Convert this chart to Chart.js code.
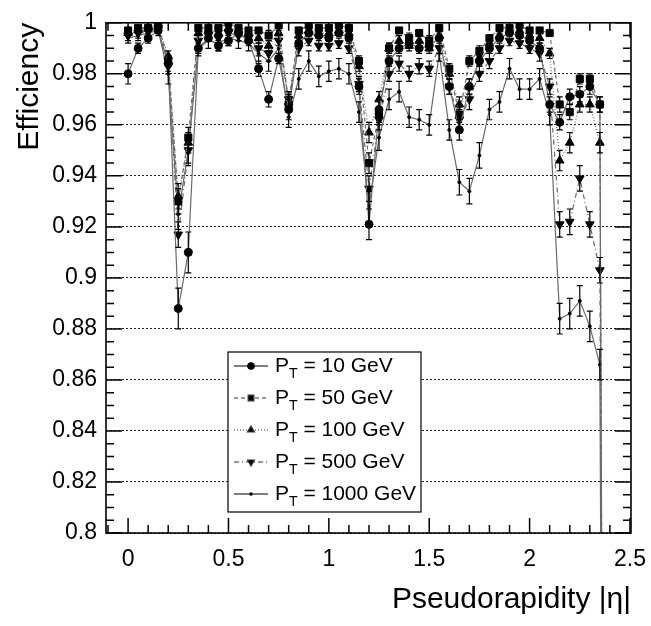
<!DOCTYPE html>
<html>
<head>
<meta charset="utf-8">
<script src="https://cdn.jsdelivr.net/npm/chart.js@4.4.1/dist/chart.umd.min.js"></script>
<style>
  html, body { margin: 0; padding: 0; background: #fff; }
  #wrap { width: 651px; height: 626px; }
</style>
</head>
<body>
<div id="wrap"><canvas id="chart"></canvas></div>
<script>
const eta = [0, 0.05, 0.1, 0.15, 0.2, 0.25, 0.3, 0.35, 0.4, 0.45, 0.5, 0.55, 0.6, 0.65, 0.7, 0.75, 0.8, 0.85, 0.9, 0.95,
             1.0, 1.05, 1.1, 1.15, 1.2, 1.25, 1.3, 1.35, 1.4, 1.45, 1.5, 1.55, 1.6, 1.65, 1.7, 1.75, 1.8, 1.85, 1.9, 1.95,
             2.0, 2.05, 2.1, 2.15, 2.2, 2.25, 2.3, 2.35, 2.4]

const eff10 = [0.980, 0.990, 0.994, 0.997, 0.984, 0.888, 0.910, 0.990, 0.994, 0.991, 0.993, 0.996, 0.993, 0.982, 0.970, 0.986, 0.966, 0.992, 0.996, 0.995,
               0.994, 0.996, 0.994, 0.975, 0.921, 0.966, 0.985, 0.990, 0.992, 0.990, 0.991, 0.994, 0.975, 0.958, 0.975, 0.985, 0.990, 0.994, 0.996, 0.995,
               0.993, 0.990, 0.968, 0.961, 0.971, 0.972, 0.975, 0.968, 0]
const eff50 = [0.997, 0.998, 0.998, 0.999, 0.985, 0.930, 0.955, 0.998, 0.998, 0.998, 1.000, 0.998, 0.997, 0.997, 0.995, 0.999, 0.968, 0.997, 0.999, 0.998,
               0.998, 0.999, 0.998, 0.985, 0.945, 0.964, 0.990, 0.997, 0.994, 0.996, 0.993, 0.998, 0.982, 0.964, 0.985, 0.989, 0.994, 0.998, 0.998, 0.999,
               0.997, 0.997, 0.996, 0.968, 0.965, 0.978, 0.978, 0.968, 0]
const eff100 = [0.996, 0.997, 0.998, 0.999, 0.987, 0.932, 0.953, 0.996, 0.997, 0.996, 0.998, 0.997, 0.996, 0.994, 0.991, 0.996, 0.969, 0.995, 0.997, 0.996,
                0.996, 0.997, 0.996, 0.983, 0.957, 0.970, 0.990, 0.993, 0.991, 0.993, 0.990, 0.995, 0.980, 0.968, 0.975, 0.986, 0.992, 0.995, 0.997, 0.997,
                0.995, 0.994, 0.988, 0.946, 0.953, 0.968, 0.968, 0.953, 0]
const eff500 = [0.995, 0.996, 0.997, 0.998, 0.983, 0.917, 0.950, 0.993, 0.995, 0.994, 0.996, 0.995, 0.994, 0.990, 0.988, 0.993, 0.970, 0.990, 0.993, 0.991,
                0.991, 0.992, 0.990, 0.976, 0.935, 0.962, 0.980, 0.984, 0.980, 0.983, 0.982, 0.990, 0.975, 0.962, 0.970, 0.980, 0.985, 0.990, 0.993, 0.992,
                0.990, 0.988, 0.975, 0.921, 0.922, 0.939, 0.921, 0.903, 0]
const eff1000 = [0.994, 0.995, 0.996, 0.997, 0.980, 0.925, 0.950, 0.990, 0.993, 0.992, 0.994, 0.993, 0.992, 0.988, 0.985, 0.990, 0.963, 0.978, 0.985, 0.979,
                 0.981, 0.982, 0.980, 0.965, 0.928, 0.955, 0.970, 0.973, 0.963, 0.962, 0.960, 0.988, 0.958, 0.9375, 0.934, 0.948, 0.966, 0.969, 0.982, 0.974,
                 0.974, 0.978, 0.964, 0.884, 0.886, 0.891, 0.881, 0.866, 0]

// errors (half length of the bars)
const err10 = [0.004, 0.002, 0.002, 0.001, 0.003, 0.008, 0.008, 0.002, 0.001, 0.002, 0.002, 0.001, 0.002, 0.003, 0.003, 0.002, 0.004, 0.002, 0.001, 0.001,
               0.001, 0.001, 0.001, 0.003, 0.006, 0.004, 0.002, 0.002, 0.002, 0.002, 0.002, 0.001, 0.003, 0.004, 0.003, 0.002, 0.002, 0.001, 0.001, 0.001,
               0.002, 0.002, 0.003, 0.003, 0.003, 0.003, 0.003, 0.003, 0]
const err50 = [0.001, 0.001, 0.001, 0.001, 0.002, 0.005, 0.004, 0.001, 0.001, 0.001, 0.001, 0.001, 0.001, 0.001, 0.002, 0.001, 0.003, 0.001, 0.001, 0.001,
               0.001, 0.001, 0.001, 0.002, 0.004, 0.003, 0.002, 0.001, 0.002, 0.001, 0.002, 0.001, 0.002, 0.003, 0.002, 0.002, 0.001, 0.001, 0.001, 0.001,
               0.001, 0.001, 0.001, 0.003, 0.003, 0.002, 0.002, 0.003, 0]
const err100 = [0.001, 0.001, 0.001, 0.001, 0.002, 0.005, 0.004, 0.001, 0.001, 0.001, 0.001, 0.001, 0.001, 0.002, 0.002, 0.001, 0.003, 0.002, 0.001, 0.001,
                0.001, 0.001, 0.001, 0.002, 0.004, 0.003, 0.002, 0.002, 0.002, 0.002, 0.002, 0.001, 0.002, 0.003, 0.003, 0.002, 0.002, 0.001, 0.001, 0.001,
                0.001, 0.002, 0.002, 0.004, 0.004, 0.003, 0.003, 0.004, 0]
const err500 = [0.002, 0.002, 0.001, 0.001, 0.003, 0.005, 0.005, 0.002, 0.002, 0.002, 0.002, 0.002, 0.002, 0.003, 0.003, 0.002, 0.003, 0.003, 0.002, 0.002,
                0.002, 0.002, 0.002, 0.003, 0.005, 0.004, 0.003, 0.003, 0.003, 0.003, 0.003, 0.002, 0.003, 0.004, 0.004, 0.003, 0.003, 0.002, 0.002, 0.002,
                0.002, 0.003, 0.003, 0.005, 0.005, 0.005, 0.005, 0.005, 0]
const err1000 = [0.002, 0.002, 0.002, 0.002, 0.004, 0.006, 0.006, 0.003, 0.003, 0.003, 0.003, 0.003, 0.003, 0.004, 0.004, 0.003, 0.004, 0.004, 0.004, 0.004,
                 0.004, 0.004, 0.004, 0.004, 0.006, 0.005, 0.004, 0.004, 0.004, 0.004, 0.004, 0.003, 0.004, 0.005, 0.005, 0.005, 0.004, 0.004, 0.004, 0.004,
                 0.004, 0.004, 0.004, 0.006, 0.006, 0.006, 0.006, 0.006, 0]

const seriesLabels = ['10 GeV', '50 GeV', '100 GeV', '500 GeV', '1000 GeV']

const FONT = '"Liberation Sans", Arial, Helvetica, sans-serif'
const LINE = '#6a6a6a'

function points(vals) {
    return eta.map((x, i) => ({ x: x, y: vals[i] }))
}

function makeSet(label, vals, errs, dash, style, radius, rotation) {
    return {
        label: label,
        data: points(vals),
        errors: errs,
        borderColor: LINE,
        borderWidth: 1.2,
        borderDash: dash,
        pointStyle: style,
        pointRadius: radius,
        pointRotation: rotation,
        pointBackgroundColor: '#000',
        pointBorderColor: '#000',
        pointBorderWidth: 1,
        tension: 0,
        fill: false
    }
}

const datasets = [
    makeSet(seriesLabels[0], eff10, err10, [], 'circle', 4, 0),
    makeSet(seriesLabels[1], eff50, err50, [4, 3], 'rect', 5, 0),
    makeSet(seriesLabels[2], eff100, err100, [1, 2], 'triangle', 5, 0),
    makeSet(seriesLabels[3], eff500, err500, [5, 3, 1, 3], 'triangle', 5, 180),
    makeSet(seriesLabels[4], eff1000, err1000, [], 'circle', 1.5, 0)
]

// vertical error bars with small caps
const errorBars = {
    id: 'errorBars',
    afterDatasetsDraw(chart) {
        const { ctx, chartArea, scales } = chart
        ctx.save()
        ctx.beginPath()
        ctx.rect(chartArea.left, chartArea.top, chartArea.right - chartArea.left, chartArea.bottom - chartArea.top)
        ctx.clip()
        ctx.strokeStyle = '#000'
        ctx.lineWidth = 1.2
        chart.data.datasets.forEach((ds) => {
            ds.data.forEach((p, i) => {
                const e = ds.errors[i]
                if (!e) return
                const x = scales.x.getPixelForValue(p.x)
                const y1 = scales.y.getPixelForValue(p.y + e)
                const y2 = scales.y.getPixelForValue(p.y - e)
                ctx.beginPath()
                ctx.moveTo(x, y1); ctx.lineTo(x, y2)
                ctx.moveTo(x - 3, y1); ctx.lineTo(x + 3, y1)
                ctx.moveTo(x - 3, y2); ctx.lineTo(x + 3, y2)
                ctx.stroke()
            })
        })
        ctx.restore()
    }
}

// ROOT-like frame with inward major/minor ticks on all four sides
const rootFrame = {
    id: 'rootFrame',
    afterDraw(chart) {
        const { ctx, chartArea: a, scales } = chart
        ctx.save()
        ctx.strokeStyle = '#000'
        ctx.lineWidth = 1.5
        ctx.beginPath()
        for (let k = -1; k <= 25; k++) {
            const x = scales.x.getPixelForValue(k / 10)
            if (x < a.left || x > a.right) continue
            const len = k % 5 === 0 ? 15 : 8
            ctx.moveTo(x, a.bottom); ctx.lineTo(x, a.bottom - len)
            ctx.moveTo(x, a.top); ctx.lineTo(x, a.top + len)
        }
        for (let k = 0; k <= 40; k++) {
            const y = scales.y.getPixelForValue(0.8 + k * 0.005)
            const len = k % 4 === 0 ? 16 : 8
            ctx.moveTo(a.left, y); ctx.lineTo(a.left + len, y)
            ctx.moveTo(a.right, y); ctx.lineTo(a.right - len, y)
        }
        ctx.stroke()
        ctx.lineWidth = 1.6
        ctx.strokeRect(a.left, a.top, a.right - a.left, a.bottom - a.top)
        ctx.restore()
    }
}

// legend box with P_T subscripts
const ptLegend = {
    id: 'ptLegend',
    afterDraw(chart) {
        const { ctx } = chart
        const bx = 228, by = 352, bw = 193, bh = 160
        ctx.save()
        ctx.fillStyle = '#fff'
        ctx.fillRect(bx, by, bw, bh)
        ctx.strokeStyle = '#000'
        ctx.lineWidth = 1.2
        ctx.strokeRect(bx, by, bw, bh)
        chart.data.datasets.forEach((ds, i) => {
            const y = by + 14 + i * 32
            ctx.strokeStyle = i === 0 || i === 4 ? '#000' : '#333'
            ctx.lineWidth = 1.2
            ctx.setLineDash(ds.borderDash)
            ctx.beginPath()
            ctx.moveTo(bx + 6, y); ctx.lineTo(bx + 40, y)
            ctx.stroke()
            ctx.setLineDash([])
            ctx.fillStyle = '#000'
            Chart.helpers.drawPoint(ctx, { pointStyle: ds.pointStyle, radius: ds.pointRadius * 0.8, rotation: ds.pointRotation, borderWidth: 1 }, bx + 23, y)
            ctx.fillStyle = '#000'
            ctx.textBaseline = 'middle'
            ctx.textAlign = 'left'
            ctx.font = '21px ' + FONT
            let tx = bx + 47
            ctx.fillText('P', tx, y)
            tx += ctx.measureText('P').width
            ctx.font = '14px ' + FONT
            ctx.fillText('T', tx, y + 8)
            tx += ctx.measureText('T').width
            ctx.font = '21px ' + FONT
            ctx.fillText(' = ' + ds.label, tx, y)
        })
        ctx.restore()
    }
}

new Chart(document.getElementById('chart'), {
    type: 'line',
    data: { datasets: datasets },
    plugins: [errorBars, rootFrame, ptLegend],
    options: {
        responsive: true,
        maintainAspectRatio: false,
        animation: false,
        layout: { padding: { left: 0, right: 18, top: 15, bottom: 0 } },
        plugins: { legend: { display: false }, tooltip: { enabled: false } },
        scales: {
            x: {
                type: 'linear',
                min: -0.11,
                max: 2.505,
                afterFit(scale) { scale.height = 93 },
                grid: { display: false },
                border: { display: false },
                ticks: {
                    stepSize: 0.5,
                    includeBounds: false,
                    padding: 5,
                    color: '#000',
                    font: { family: FONT, size: 23 },
                    callback: (v) => String(Number(v.toFixed(2)))
                },
                title: {
                    display: true,
                    text: 'Pseudorapidity |η|',
                    align: 'end',
                    color: '#000',
                    padding: { top: 0, bottom: 8 },
                    font: { family: FONT, size: 30 }
                }
            },
            y: {
                min: 0.8,
                max: 1.0,
                afterFit(scale) { scale.width = 106 },
                grid: {
                    color: '#222',
                    lineWidth: 1,
                    drawTicks: false
                },
                border: { display: false, dash: [2, 2] },
                ticks: {
                    stepSize: 0.02,
                    includeBounds: false,
                    padding: 9,
                    color: '#000',
                    font: { family: FONT, size: 23 },
                    callback: (v) => String(Number(v.toFixed(2)))
                },
                title: {
                    display: true,
                    text: 'Efficiency',
                    align: 'end',
                    color: '#000',
                    padding: { top: 12, bottom: 0 },
                    font: { family: FONT, size: 30 }
                }
            }
        }
    }
})
</script>
</body>
</html>
